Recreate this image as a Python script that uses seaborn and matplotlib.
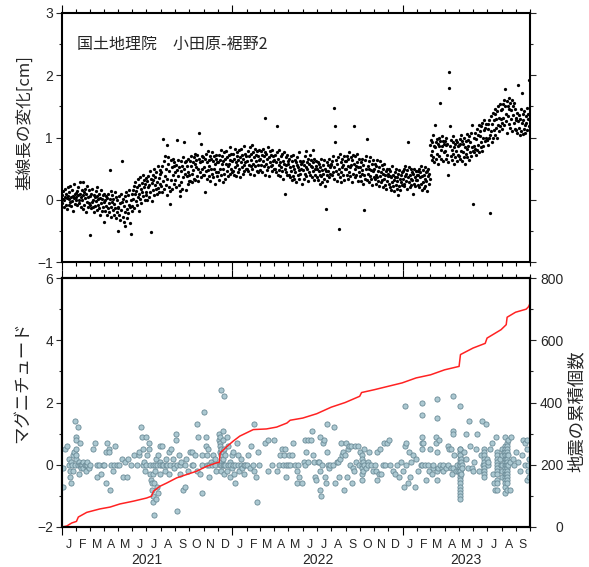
import numpy as np
import pandas as pd
import matplotlib
matplotlib.use("Agg")
import matplotlib.pyplot as plt
import matplotlib.dates as mdates
import matplotlib.transforms as mtrans
from matplotlib.ticker import MultipleLocator
import seaborn as sns

sns.set_style("ticks")
plt.rcParams['font.family'] = ['Liberation Sans', 'Noto Sans CJK JP', 'DejaVu Sans']
plt.rcParams['axes.unicode_minus'] = True

# ---------------- data ----------------
# baseline length change, hundredths of cm, one entry per day, monthly lists
gps_2021 = [
    [8, -6, 14, 2, -12, 0, 18, 4, -8, 10, -15, 3, 6, 20, -9, 1, 12, -4, 22, 5, -10, -2, 15, 6, -18, 3, 25, 9, -7, 0, 11],
    [4, 14, -9, 8, 20, -6, -1, 28, 10, -12, 5, 16, 0, -15, 7, 29, 12, -8, 18, 3, -20, 9, -3, 22, -11, 4, 15, -6],
    [-8, -56, 6, -14, 10, -4, 18, -12, 0, 8, -20, 4, -10, 14, -2, -16, 6, 20, -9, 1, -13, 9, -24, 3, -6, 15, -18, 2, -11, 7, -36],
    [-4, 10, -18, 0, -10, 6, -24, 3, -14, 9, -6, -20, 48, 1, -12, 14, -28, -3, 8, -16, 2, -25, -7, 12, -13, -30, 4, -19, -1, -11],
    [-50, -14, 6, -24, -6, -32, 9, -17, 62, -4, -28, 2, -36, -10, 6, -20, -42, -2, 13, -15, -30, 7, -22, -8, 16, -12, -38, 0, -55, 10, -18],
    [-10, 16, 2, 22, -14, 9, 28, -2, 14, -8, 20, 33, 5, -18, 24, 10, 36, 2, 17, -6, 27, 12, 40, 6, 21, 31, -1, 25, 13, 35],
    [8, 30, 0, 20, 38, 5, 24, 46, 12, 34, -52, 27, -2, 40, 16, 32, 50, 8, 24, 37, 18, 44, 10, 28, 54, 19, 35, 12, 42, 26, 48],
    [22, 45, 12, 55, 30, 97, 18, 62, 38, 70, 24, 50, 8, 88, 34, 58, 68, 20, 46, 14, -7, 64, 32, 52, 18, 66, 40, 60, 26, 54, 44],
    [32, 56, 20, 48, 96, 38, 64, 24, 52, 14, 6, 46, 62, 28, 55, 18, 68, 36, 50, 92, 60, 42, 16, 63, 38, 54, 26, 66, 44, 30],
    [40, 63, 30, 55, 70, 42, 28, 60, 48, 68, 34, 58, 74, 32, 52, 64, 38, 72, 50, 30, 66, 107, 44, 60, 90, 36, 70, 50, 62, 40, 68],
    [52, 40, 12, 66, 46, 74, 34, 60, 48, 78, 38, 64, 54, 30, 70, 50, 66, 42, 76, 36, 62, 50, 70, 26, 58, 72, 44, 66, 38, 60],
    [60, 44, 72, 32, 64, 50, 80, 40, 58, 70, 28, 62, 50, 76, 42, 66, 34, 58, 78, 46, 68, 54, 38, 72, 58, 84, 42, 64, 50, 74, 44],
]
gps_2022 = [
    [62, 46, 74, 40, 66, 82, 52, 60, 38, 76, 56, 70, 44, 64, 80, 50, 68, 36, 60, 82, 52, 72, 42, 66, 86, 56, 46, 74, 60, 70, 50],
    [62, 50, 78, 46, 70, 56, 84, 42, 74, 64, 54, 88, 50, 76, 58, 68, 40, 82, 54, 72, 62, 46, 78, 56, 70, 44, 80, 64],
    [66, 48, 78, 56, 72, 44, 62, 82, 54, 70, 40, 76, 131, 58, 74, 48, 66, 84, 52, 68, 38, 78, 60, 54, 72, 46, 80, 56, 70, 62, 50],
    [64, 50, 72, 44, 60, 119, 76, 40, 66, 56, 48, 80, 60, 38, 70, 52, 74, 46, 62, 34, 58, 76, 50, 10, 68, 44, 56, 72, 40, 62],
    [58, 40, 66, 36, 52, 70, 46, 32, 62, 54, 38, 72, 50, 34, 64, 44, 60, 28, 56, 68, 40, 52, 48, 76, 34, 62, 42, 58, 50, 26, 60],
    [48, 62, 34, 56, 70, 42, 52, 78, 38, 60, 50, 66, 30, 58, 44, 72, 40, 54, 64, 36, 52, 80, 46, 60, 32, 66, 50, 40, 62, 54],
    [50, 36, 60, 32, 46, 58, 26, 52, 40, 66, 38, 48, 28, 56, 42, 64, 34, 50, 22, 46, -15, 60, 40, 30, 56, 46, 66, 36, 52, 42, 58],
    [56, 40, 62, 44, 70, 34, 52, 147, 119, 93, 46, 64, 30, 58, 42, 68, -47, 50, 36, 74, 44, 60, 28, 52, 66, 40, 56, 70, 32, 50, 62],
    [50, 62, 40, 70, 54, 34, 66, 44, 76, 52, 38, 68, 56, 28, 64, 42, 72, 58, 119, 50, 36, 70, 54, 40, 74, 60, 30, 52, 66, 44],
    [52, 38, 60, 30, 48, 66, 42, 26, 56, 40, -16, 64, 34, 50, 70, 32, 98, 54, 42, 62, 28, 50, 38, 68, 34, 48, 58, 24, 46, 64, 36],
    [50, 34, 58, 40, 26, 54, 36, 64, 30, 46, 22, 52, 38, 62, 44, 28, 56, 32, 42, 20, 50, 34, 58, 24, 40, 46, 18, 50, 30, 38],
    [42, 26, 50, 20, 38, 46, 16, 36, 28, 54, 22, 40, 32, 14, 44, 36, 24, 50, 18, 36, 30, 42, 8, 22, 48, 34, 16, 40, 28, 44, 24],
]
gps_2023 = [
    [34, 46, 26, 50, 22, 38, 54, 30, 42, 18, 48, 36, 92, 28, 52, 20, 40, 34, 50, 24, 44, 32, 10, 42, 26, 50, 36, 22, 46, 32, 40],
    [32, 46, 24, 40, 50, 20, 36, 44, 26, 54, 38, 16, 48, 28, 40, 19, 34, 52, 22, 44, 30, 46, 14, 38, 50, 26, 42, 34],
    [88, 72, 96, 64, 92, 78, 104, 68, 86, 60, 84, 120, 92, 66, 98, 74, 90, 58, 86, 100, 70, 94, 155, 80, 66, 102, 86, 62, 94, 76, 90],
    [78, 94, 66, 88, 100, 72, 90, 60, 40, 205, 179, 86, 119, 70, 96, 80, 64, 92, 74, 102, 84, 58, 90, 68, 96, 78, 62, 92, 86, 72],
    [88, 70, 98, 66, 90, 78, 104, 62, 94, 76, 90, 68, 100, 84, 58, 94, 74, 106, 82, 68, 96, 86, 64, 102, 76, 92, 70, 108, 84, 120, 78],
    [-7, 86, 76, 100, 82, 108, 72, 98, 114, 80, 104, 88, 120, 76, 102, 110, 84, 118, 92, 78, 124, 100, 86, 112, 128, 94, 116, 100, 122, 96],
    [96, 114, 88, 122, 100, 128, -22, 104, 134, 110, 92, 122, 140, 100, 128, 112, 138, 104, 146, 116, 130, 100, 142, 120, 150, 110, 132, 154, 118, 144, 130],
    [124, 146, 114, 154, 132, 160, 120, 178, 150, 138, 126, 158, 108, 150, 134, 164, 122, 146, 156, 116, 144, 130, 160, 110, 150, 136, 124, 156, 114, 146, 128],
    [132, 112, 140, 108, 126, 184, 116, 136, 104, 130, 146, 110, 124, 172, 138, 106, 128, 114, 142, 120, 108, 134, 124, 148, 112, 130, 138, 192, 118, 134],
]

# earthquakes: (days since 2021-01-01, [magnitudes on that day])
quakes_2021 = [
    (3, [-0.1, -0.7]), (6, [0.5]), (10, [0.6]), (14, [0.2]), (16, [0.0]), (17, [-0.2, -0.4]), (19, [-0.6, 0.1]),
    (21, [0.0]), (23, [-0.2, 0.3]), (26, [0.4]), (28, [1.4, 0.0]), (30, [0.9, 0.8, 0.2]),
    (31, [0.5, 0.3]), (34, [1.2, 0.0]), (36, [-0.3, 0.1]), (39, [0.7, 0.0]), (41, [0.0, -0.1]), (43, [0.0]),
    (46, [0.1, -0.1]), (49, [0.0]), (51, [-0.2, 0.0]), (54, [0.0, 0.1]), (57, [-0.1]), (60, [0.0]),
    (66, [0.5]), (71, [0.7]), (74, [0.0]), (76, [-0.4]), (80, [0.0]), (83, [-0.3]), (87, [0.0]), (91, [0.0]),
    (94, [-0.6, 0.4]), (97, [0.7]), (100, [0.5, 0.4]), (103, [-0.8]), (106, [0.0]), (109, [-0.2]), (111, [0.0]),
    (114, [0.6]), (117, [0.0]),
    (123, [0.0]), (128, [0.2]), (131, [-0.4]), (136, [0.1]), (139, [-0.4]), (142, [0.2]), (147, [0.0]),
    (154, [0.3]), (160, [0.0]), (164, [0.3]), (166, [0.4]), (169, [1.2]), (171, [0.9]), (173, [0.5, 0.0]),
    (176, [0.1]), (178, [-0.2]), (180, [0.9, 0.0]),
    (183, [0.3]), (186, [0.7]), (187, [0.5]), (189, [-0.3, 0.0]), (191, [-0.5]), (192, [-0.6, -0.8]),
    (194, [-1.0, -0.3]), (196, [-1.2, 0.0]), (197, [-1.6, -0.6]), (199, [0.0, -0.2]), (201, [-1.1, 0.2]),
    (203, [-0.7, 0.0]), (206, [0.3, -0.9]), (209, [0.6, 0.1]), (211, [-0.3, 0.0]),
    (214, [0.6, 0.0]), (217, [0.0]), (220, [-0.2]), (223, [0.2, 0.0]), (226, [0.0]), (229, [0.4, -0.3]),
    (231, [0.0]), (234, [0.5]), (237, [0.2]), (240, [0.0, -0.1]),
    (244, [1.0, 0.8]), (247, [-1.5, 0.0]), (250, [0.3]), (253, [-0.3, 0.0]), (256, [0.1]), (260, [-0.8]),
    (263, [-0.7, 0.0]), (266, [0.2]), (269, [-0.2]),
    (274, [0.4]), (278, [0.4, 0.0]), (281, [0.0]), (285, [0.3]), (289, [1.3, -0.2]), (292, [0.9]),
    (296, [-0.3]), (299, [-0.9, 0.3]), (301, [0.0]),
    (305, [1.7]), (308, [0.9, 0.6]), (310, [0.3, 0.0]), (312, [0.5]), (315, [-0.4, 0.0]), (319, [0.1]),
    (321, [0.0]), (324, [0.3]), (328, [0.2, 0.0]), (331, [-0.2]),
    (337, [0.8, 1.0]), (339, [0.9, 0.7, 0.6, 0.4, 0.0]), (341, [2.4, 0.3, 0.5, 0.1, 0.0, -0.2]),
    (344, [1.1, 0.8, 0.4, 0.2, 0.0]), (347, [2.2, 0.5, 0.0, -0.3]), (350, [0.3, 0.0]), (353, [0.9, -0.2]),
    (356, [0.0, 0.6]), (359, [-0.4, 0.1]), (361, [0.0]), (364, [0.3, -0.1]),
]
quakes_2022 = [
    (367, [0.0, 0.4]), (369, [-0.3]), (371, [-0.6, 0.0]), (374, [0.7]), (377, [0.3, 0.0]), (380, [-0.2]),
    (383, [0.2, 0.0]), (386, [-0.1]), (389, [-0.3, 0.0]), (392, [0.0]),
    (396, [0.0]), (399, [0.3]), (403, [-0.1]), (406, [0.6]), (410, [0.0]), (412, [1.3, -0.2]), (416, [-0.4]),
    (417, [-1.2]), (421, [0.4]), (423, [0.0]),
    (435, [0.7]), (442, [0.8, -0.2]), (449, [0.0]), (454, [0.8]),
    (460, [-0.2]), (464, [0.0]), (467, [0.3]), (471, [0.5]), (473, [0.0]), (475, [0.3]), (477, [0.5]),
    (479, [0.0]), (481, [-0.4]), (484, [0.0]),
    (486, [0.3]), (489, [0.0]), (492, [0.3]), (496, [0.7]), (499, [0.0]), (503, [-0.2, -0.6]), (506, [0.0]),
    (509, [-0.4]), (514, [-0.6]),
    (519, [0.1]), (521, [0.8, 0.0]), (524, [0.4]), (528, [0.1, 0.8]), (533, [0.8]), (535, [1.1]), (537, [0.3]),
    (540, [0.1]), (542, [-0.4]), (544, [-0.5]),
    (549, [0.1]), (551, [0.1]), (553, [-0.2]), (554, [0.9, -0.8]), (556, [-1.0]), (557, [0.0]), (559, [0.7]),
    (561, [0.8]), (564, [-0.4]), (566, [-0.6]), (567, [1.3]), (569, [0.4]), (571, [0.0]), (573, [-0.1]), (575, [0.0]),
    (580, [0.0]), (583, [1.2]), (585, [-0.6]), (589, [0.1]), (591, [0.1]), (593, [-0.4]), (596, [0.2]),
    (599, [0.7]), (601, [0.3]), (603, [0.4]), (604, [-0.8]), (606, [0.3]),
    (609, [0.7]), (610, [-0.4]), (613, [0.5]), (616, [0.6]), (617, [0.0]), (619, [0.6]), (621, [-0.6]),
    (624, [-0.1]), (626, [-0.2]), (629, [0.6]), (631, [0.1]), (635, [0.6]), (637, [0.0]),
    (639, [0.4]), (642, [0.3, 0.2, 0.0, -0.1, -0.3, -0.5]), (645, [0.1, -0.2]), (648, [0.0, 0.5]),
    (651, [-0.1]), (655, [0.1, 0.0]), (659, [0.4]), (662, [0.0]), (666, [-0.2]),
    (671, [0.0]), (673, [-0.2]), (675, [-0.5]), (676, [0.4]), (679, [-0.3]), (681, [0.5]), (684, [-0.3]),
    (687, [0.0]), (690, [0.7]), (693, [0.0]), (696, [0.7]),
    (700, [0.8]), (704, [0.0]), (710, [-0.2]), (714, [-0.3]), (719, [0.0]), (723, [-0.4]), (726, [0.1]),
]
quakes_2023 = [
    (731, [-0.2]), (733, [-0.7]), (735, [1.9, 0.6]), (737, [0.7, 0.0]), (742, [-0.6]), (744, [0.4]),
    (746, [-0.4]), (749, [0.1]), (753, [0.3]), (756, [-0.7]), (759, [0.2]),
    (764, [-0.2]), (769, [0.0]), (772, [2.0, 1.6, 0.9, 0.7, 0.5, 0.0]), (773, [0.7]), (778, [0.0]),
    (781, [-0.5]), (785, [0.0]), (787, [-0.2]), (789, [0.5]),
    (792, [-0.3]), (795, [-0.1]), (796, [0.0]), (802, [0.9, 0.7]), (803, [2.1, 0.4]), (804, [1.5, -0.2, -0.5]),
    (806, [-0.1]), (809, [0.8]), (810, [0.0]), (814, [-0.1]), (816, [0.0]), (817, [-0.2]),
    (824, [-0.1]), (828, [0.6, 0.0]), (830, [0.5]), (833, [-0.1]), (834, [0.5]), (836, [-0.3]), (837, [-0.1]),
    (838, [1.1, 1.0]), (839, [2.2]), (840, [0.3]), (844, [-0.2]), (846, [0.0]), (849, [-0.2]),
    (852, [1.9, 0.5, 0.4, 0.3, 0.2, 0.1, 0.0, -0.1, -0.2, -0.3, -0.4, -0.5, -0.6, -0.7, -0.8, -0.9, -1.0, -1.1]),
    (854, [0.5, 0.3, 0.0, -0.2]), (856, [0.2, -0.3, 0.1]), (858, [0.0, -0.1]), (861, [0.4]), (866, [1.0, 0.2]),
    (870, [-0.1]), (873, [1.4]), (874, [0.6]), (878, [-0.1]), (880, [-0.2]),
    (884, [0.1]), (887, [0.5]), (890, [1.0]), (894, [-0.2]), (897, [0.3]), (901, [1.4]), (903, [0.0]),
    (905, [0.5, 0.4, 0.3, 0.2, 0.1, 0.0, -0.1, -0.2, -0.3, -0.4]), (908, [1.3]), (910, [0.2]),
    (912, [0.0]), (914, [0.1]), (917, [0.5]), (921, [0.7]), (924, [-0.3]), (926, [-0.6]), (928, [-0.8]),
    (931, [0.9]), (933, [0.4, 0.3, 0.2, 0.1, 0.0, -0.1, -0.2, -0.3, -0.5, -0.6, -0.8]), (938, [0.2]), (940, [0.0]),
    (944, [0.5, 0.3, 0.0, -0.2, -0.4]), (947, [0.4]),
    (949, [0.9, 0.6, 0.5, 0.4, 0.3, 0.2, 0.1, 0.0, -0.1, -0.2, -0.3, -0.4, -0.5, -0.6, -0.7, -0.9]),
    (951, [0.2, 0.0, -0.3]),
    (953, [0.7, 0.6, 0.5, 0.4, 0.3, 0.2, 0.1, 0.0, -0.1, -0.2, -0.3, -0.4, -0.5, -0.6, -0.8]),
    (956, [0.8, 0.3, 0.0]), (960, [-0.8, 0.1]), (962, [0.9]), (966, [0.2]), (969, [0.0]),
    (974, [0.4]), (978, [0.1]), (981, [-0.2]), (985, [0.3]), (989, [0.8]), (992, [0.7, 0.0]),
    (996, [0.8, 0.5]), (997, [-0.5]), (999, [-0.2, 0.0]), (1001, [-0.4, 0.2]),
]

# cumulative number of earthquakes (days since 2021-01-01, count)
cum_day = [0, 3, 10, 21, 31, 35, 53, 81, 103, 124, 153, 181, 192, 196, 210, 224, 246, 268, 288, 310,
           331, 337, 339, 353, 367, 381, 410, 438, 460, 482, 489, 516, 546, 577, 607, 638, 642, 669, 699, 729,
           759, 790, 820, 851, 854, 881, 907, 911, 941, 952, 954, 972, 995, 1000, 1003]
cum_count = [0, 1, 3, 13, 18, 32, 47, 58, 64, 74, 83, 93, 99, 115, 131, 141, 158, 169, 179, 195,
             206, 208, 238, 258, 276, 292, 313, 315, 321, 334, 343, 350, 364, 385, 400, 420, 432, 441, 452, 463,
             479, 489, 505, 516, 554, 575, 590, 607, 634, 650, 674, 690, 700, 708, 718]

month_letters = ['J', 'F', 'M', 'A', 'M', 'J', 'J', 'A', 'S', 'O', 'N', 'D']
year_labels = ['2021', '2022', '2023']
title_text = '国土地理院　小田原-裾野2'
ylabel_top = '基線長の変化[cm]'
ylabel_mag = 'マグニチュード'
ylabel_cum = '地震の累積個数'

START = pd.Timestamp('2021-01-01')
END = pd.Timestamp('2023-10-01')

# ---------------- frames ----------------
rows = []
for year, months in ((2021, gps_2021), (2022, gps_2022), (2023, gps_2023)):
    for mi, vals in enumerate(months):
        first = pd.Timestamp(year=year, month=mi + 1, day=1)
        for d, v in enumerate(vals[:first.days_in_month]):
            if v is None:
                continue
            rows.append((first + pd.Timedelta(days=d), v / 100.0))
gps = pd.DataFrame(rows, columns=['date', 'cm'])

rows = []
for lst in (quakes_2021, quakes_2022, quakes_2023):
    for day, mags in lst:
        for m in mags:
            rows.append((START + pd.Timedelta(days=day), m))
eq = pd.DataFrame(rows, columns=['date', 'mag'])

cum = pd.DataFrame({'date': [START + pd.Timedelta(days=d) for d in cum_day], 'count': cum_count})

# ---------------- figure ----------------
W, H = 589, 567
fig = plt.figure(figsize=(W / 100, H / 100), dpi=100)


def rect(x0, y0, x1, y1):
    return [x0 / W, 1 - y1 / H, (x1 - x0) / W, (y1 - y0) / H]


ax1 = fig.add_axes(rect(62, 13, 530, 262))
ax2 = fig.add_axes(rect(62, 278, 530, 527))

sns.scatterplot(data=gps, x='date', y='cm', ax=ax1, color='black', s=5.5,
                linewidth=0, legend=False, zorder=3)
sns.scatterplot(data=eq, x='date', y='mag', ax=ax2, color='#abc8d1', s=14,
                edgecolor='#6a8a96', linewidth=0.6, legend=False, zorder=3)
ax3 = ax2.twinx()
sns.lineplot(data=cum, x='date', y='count', ax=ax3, color='#ff2222', lw=1.1,
             estimator=None, legend=False)

for ax in (ax1, ax2, ax3):
    ax.set_xlim(START, END)
    ax.set_xlabel('')
    ax.set_ylabel('')
    for sp in ax.spines.values():
        sp.set_linewidth(1.5)
        sp.set_color('black')
        sp.set_visible(True)

ax1.set_ylim(-1, 3)
ax2.set_ylim(-2, 6)
ax3.set_ylim(0, 800)

for ax in (ax1, ax2):
    ax.xaxis.set_major_locator(mdates.YearLocator())
    ax.xaxis.set_minor_locator(mdates.MonthLocator())
    ax.tick_params(axis='x', which='both', direction='out', top=True, bottom=True,
                   labelbottom=False, labeltop=False, width=0.8, color='black')
    ax.tick_params(axis='x', which='major', length=5.5)
    ax.tick_params(axis='x', which='minor', length=3.2)

ax1.yaxis.set_major_locator(MultipleLocator(1))
ax1.yaxis.set_minor_locator(MultipleLocator(0.5))
ax1.tick_params(axis='y', which='both', direction='out', left=True, right=True,
                labelleft=True, labelright=False, width=0.8, labelsize=10, pad=2.5)
ax1.tick_params(axis='y', which='major', length=4)
ax1.tick_params(axis='y', which='minor', length=2.5)

ax2.yaxis.set_major_locator(MultipleLocator(2))
ax2.yaxis.set_minor_locator(MultipleLocator(1))
ax2.tick_params(axis='y', which='both', direction='out', left=True, right=False,
                labelleft=True, labelright=False, width=0.8, labelsize=10, pad=2.5)
ax2.tick_params(axis='y', which='major', length=4)
ax2.tick_params(axis='y', which='minor', length=2.5)

ax3.yaxis.set_major_locator(MultipleLocator(200))
ax3.yaxis.set_minor_locator(MultipleLocator(100))
ax3.tick_params(axis='y', which='both', direction='out', left=False, right=True,
                labelleft=False, labelright=True, width=0.8, labelsize=10, pad=20)
ax3.tick_params(axis='y', which='major', length=4)
ax3.tick_params(axis='y', which='minor', length=2.5)
for lbl in ax3.get_yticklabels():
    lbl.set_horizontalalignment('right')

# month letters and years under the lower panel
trans = mtrans.blended_transform_factory(ax2.transData, ax2.transAxes)
for m in pd.date_range(START, END, freq='MS', inclusive='left'):
    mid = m + pd.Timedelta(days=m.days_in_month / 2)
    ax2.text(mid, -(545 - 527) / 249, month_letters[m.month - 1], transform=trans,
             ha='center', va='center', fontsize=8.8)
for lab in year_labels:
    y0 = max(START, pd.Timestamp(f'{lab}-01-01'))
    y1 = min(END, pd.Timestamp(f'{int(lab) + 1}-01-01'))
    ax2.text(y0 + (y1 - y0) / 2, -(560 - 527) / 249, lab, transform=trans,
             ha='center', va='center', fontsize=10)

ax1.text((77 - 62) / 468, (262 - 44) / 249, title_text, transform=ax1.transAxes,
         ha='left', va='center', fontsize=11.5, family=['Noto Sans CJK JP', 'DejaVu Sans'])

cjk = ['Noto Sans CJK JP', 'DejaVu Sans']
fig.text(25 / W, 1 - 123 / H, ylabel_top, rotation=90, ha='center', va='center',
         fontsize=12, family=cjk)
fig.text(22 / W, 1 - 382 / H, ylabel_mag, rotation=90, ha='center', va='center',
         fontsize=12.5, family=cjk)
fig.text(577 / W, 1 - 411 / H, ylabel_cum, rotation=90, ha='center', va='center',
         fontsize=12.5, family=cjk)

fig.savefig('out.png', dpi=100)
